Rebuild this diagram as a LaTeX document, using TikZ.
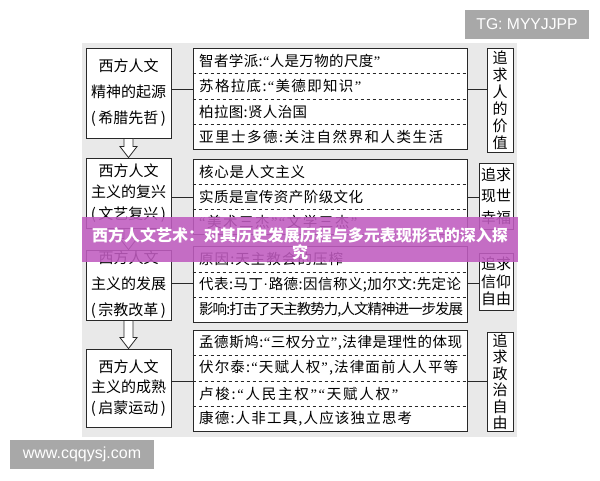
\documentclass[tikz,border=0pt]{standalone}
\usepackage{fontspec}
\setmainfont{Noto Sans CJK SC}
\newfontfamily\latinsans{Liberation Sans}
\newfontfamily\qfont{Liberation Serif}
\usetikzlibrary{calc}
\definecolor{panel}{RGB}{233,233,233}
\definecolor{boxc}{RGB}{40,40,40}
\definecolor{bandc}{RGB}{192,92,192}
\definecolor{wmc}{RGB}{168,168,168}
\newcommand\oq{{\qfont “}}
\newcommand\cq{{\qfont ”}}
\newcommand\mdot{{\qfont ·}}
\def\spreadA#1{\ifx#1\relax\else\hskip0pt plus 1fil minus 1pt\relax#1\expandafter\spreadA\fi}
\def\spreadB#1{#1\spreadA}
\newcommand\rowtext[2]{\makebox[#1pt][s]{\spreadB#2\relax}}
\newcommand\hollowarrow[2]{%
  \path[draw=boxc, fill=white, line width=0.8pt] let \p1=(#1.south), \p2=(#2.north) in
  (\x1-4.5pt,\y1) -- (\x1+4.5pt,\y1) -- (\x1+4.5pt,\y2+11pt) -- (\x1+8.5pt,\y2+11pt)
  -- (\x1,\y2) -- (\x1-8.5pt,\y2+11pt) -- (\x1-4.5pt,\y2+11pt) -- cycle;}
\tikzset{
  lbox/.style={draw=boxc, fill=white, line width=0.9pt, minimum width=85pt, align=center, inner sep=0pt},
  mbox/.style={draw=boxc, fill=white, line width=0.9pt, minimum width=274pt, inner sep=0pt},
  rbox/.style={draw=boxc, fill=white, line width=0.9pt, align=center, inner sep=0pt},
  rowtxt/.style={anchor=west, inner sep=0pt, font=\fontsize{14.5}{15}\selectfont, text=black},
  rowline/.style={draw=boxc, line width=0.7pt, dash pattern=on 3.5pt off 2.5pt},
  conn/.style={draw=boxc, line width=0.9pt},
  wmark/.style={fill=wmc, text=white, inner sep=0pt, minimum height=29pt},
}
\begin{document}
\begin{tikzpicture}[x=1pt,y=-1pt]
\useasboundingbox (0,0) rectangle (600,480);
\fill[white] (0,0) rectangle (600,480);
\fill[panel] (82,43) rectangle (517,437);

% left boxes
\node[lbox, minimum height=90pt, font=\fontsize{15}{26}\selectfont] (L1) at (128.5,93) {西方人文\\精神的起源\\(\,希腊先哲\,)};
\node[lbox, minimum height=70pt, font=\fontsize{15}{21.5}\selectfont] (L2) at (128.5,193) {西方人文\\主义的复兴\\(\,文艺复兴\,)};
\node[lbox, minimum height=70pt, font=\fontsize{15}{26}\selectfont] (L3) at (128.5,285) {西方人文\\主义的发展\\(\,宗教改革\,)};
\node[lbox, minimum height=78pt, font=\fontsize{15}{20.5}\selectfont] (L4) at (128.5,388) {西方人文\\主义的成熟\\(\,启蒙运动\,)};

% middle boxes
\node[mbox, minimum height=101pt] (M1) at (330,98.5) {};
\node[mbox, minimum height=75pt] (M2) at (330,196.5) {};
\node[mbox, minimum height=76pt] (M3) at (330,284) {};
\node[mbox, minimum height=101pt] (M4) at (330,380.5) {};

\draw[rowline] (M1.west |- 0,73) -- (M1.east |- 0,73);
\draw[rowline] (M1.west |- 0,99) -- (M1.east |- 0,99);
\draw[rowline] (M1.west |- 0,124) -- (M1.east |- 0,124);
\draw[rowline] (M2.west |- 0,184) -- (M2.east |- 0,184);
\draw[rowline] (M2.west |- 0,209) -- (M2.east |- 0,209);
\draw[rowline] (M3.west |- 0,272) -- (M3.east |- 0,272);
\draw[rowline] (M3.west |- 0,297) -- (M3.east |- 0,297);
\draw[rowline] (M4.west |- 0,355) -- (M4.east |- 0,355);
\draw[rowline] (M4.west |- 0,381) -- (M4.east |- 0,381);
\draw[rowline] (M4.west |- 0,406) -- (M4.east |- 0,406);

\node[rowtxt] (m1a) at (199,61) {\rowtext{181}{智者学派:\oq 人是万物的尺度\cq}};
\node[rowtxt] (m1b) at (199,86) {\rowtext{162}{苏格拉底:\oq 美德即知识\cq}};
\node[rowtxt] (m1c) at (199,111.5) {\rowtext{108}{柏拉图:贤人治国}};
\node[rowtxt] (m1d) at (199,136.5) {\rowtext{244}{亚里士多德:关注自然界和人类生活}};

\node[rowtxt] (m2a) at (199,171.5) {\rowtext{106}{核心是人文主义}};
\node[rowtxt] (m2b) at (199,196.5) {\rowtext{164}{实质是宣传资产阶级文化}};
\node[rowtxt] (m2c) at (199,221.5) {\rowtext{158}{\oq 美术三杰\cq\oq 文学三杰\cq}};

\node[rowtxt] (m3a) at (199,259) {\rowtext{144}{原因:天主教会的压榨}};
\node[rowtxt] (m3b) at (199,284.5) {\rowtext{262}{代表:马丁\mdot 路德:因信称义;加尔文:先定论}};
\node[rowtxt] (m3c) at (199,309.5) {\rowtext{264}{影响:打击了天主教势力,人文精神进一步发展}};

\node[rowtxt] (m4a) at (199,342.5) {\rowtext{263}{孟德斯鸠:\oq 三权分立\cq,法律是理性的体现}};
\node[rowtxt] (m4b) at (199,368) {\rowtext{259}{伏尔泰:\oq 天赋人权\cq,法律面前人人平等}};
\node[rowtxt] (m4c) at (199,393.5) {\rowtext{199}{卢梭:\oq 人民主权\cq\oq 天赋人权\cq}};
\node[rowtxt] (m4d) at (199,418.5) {\rowtext{213}{康德:人非工具,人应该独立思考}};

% right boxes
\node[rbox, minimum width=26pt, minimum height=104pt, font=\fontsize{15}{17}\selectfont] (R1) at (500,100) {追\\求\\人\\的\\价\\值};
\node[rbox, minimum width=34pt, minimum height=66pt, font=\fontsize{15}{21.5}\selectfont] (R2) at (496,196) {追求\\现世\\幸福};
\node[rbox, minimum width=34pt, minimum height=57pt, font=\fontsize{15}{17.5}\selectfont] (R3) at (496,281.5) {追求\\信仰\\自由};
\node[rbox, minimum width=26pt, minimum height=99pt, font=\fontsize{15}{16.5}\selectfont] (R4) at (500,381.5) {追\\求\\政\\治\\自\\由};

% connectors
\coordinate (c1) at (0,89);
\coordinate (c2) at (0,197);
\coordinate (c3) at (0,283);
\coordinate (c4) at (0,381);
\draw[conn] (L1.east |- c1) -- (M1.west |- c1);
\draw[conn] (M1.east |- c1) -- (R1.west |- c1);
\draw[conn] (L2.east |- c2) -- (M2.west |- c2);
\draw[conn] (M2.east |- c2) -- (R2.west |- c2);
\draw[conn] (L3.east |- c3) -- (M3.west |- c3);
\draw[conn] (M3.east |- c3) -- (R3.west |- c3);
\draw[conn] (L4.east |- c4) -- (M4.west |- c4);
\draw[conn] (M4.east |- c4) -- (R4.west |- c4);

% hollow arrows
\hollowarrow{L1}{L2}
\hollowarrow{L2}{L3}
\hollowarrow{L3}{L4}

% title band
\node[fill=bandc, fill opacity=0.88, minimum width=436pt, minimum height=45pt, inner sep=0pt] (band) at (300,239.5) {};
\node[text=white, font=\bfseries\fontsize{16}{17}\selectfont, align=center, inner sep=0pt] (title) at (300,244) {西方人文艺术：对其历史发展历程与多元表现形式的深入探\\究};

% watermarks
\node[wmark, minimum width=124pt, font=\latinsans\fontsize{15.7}{16}\selectfont] (tg) at (527,24.5) {TG: MYYJJPP};
\node[wmark, minimum width=144pt, font=\latinsans\fontsize{16}{17}\selectfont] (www) at (82,454.5) {www.cqqysj.com};
\end{tikzpicture}
\end{document}
